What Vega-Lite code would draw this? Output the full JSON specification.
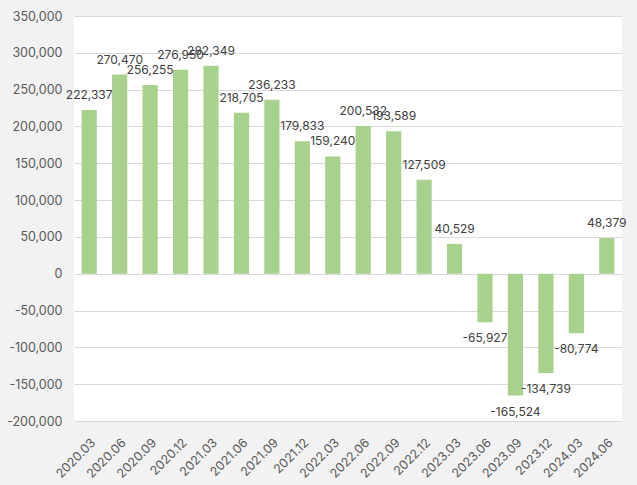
{
  "$schema": "https://vega.github.io/schema/vega-lite/v6.json",
  "autosize": {"type": "none"},
  "width": 548,
  "height": 405,
  "padding": {"left": 74, "top": 16, "right": 15, "bottom": 64},
  "background": "#f2f2f2",
  "config": {
    "locale": {"number": {"decimal": ".", "thousands": ",", "grouping": [3], "currency": ["$", ""], "minus": "-"}},
    "view": {"fill": "#ffffff", "stroke": null},
    "font": "Inter",
    "axis": {"labelFont": "Inter", "labelColor": "#595959", "labelFontSize": 12.5, "ticks": false, "domain": false, "title": null}
  },
  "data": {"values": [
    {"q": "2020.03", "v": 222337},
    {"q": "2020.06", "v": 270470},
    {"q": "2020.09", "v": 256255},
    {"q": "2020.12", "v": 276950},
    {"q": "2021.03", "v": 282349},
    {"q": "2021.06", "v": 218705},
    {"q": "2021.09", "v": 236233},
    {"q": "2021.12", "v": 179833},
    {"q": "2022.03", "v": 159240},
    {"q": "2022.06", "v": 200532},
    {"q": "2022.09", "v": 193589},
    {"q": "2022.12", "v": 127509},
    {"q": "2023.03", "v": 40529},
    {"q": "2023.06", "v": -65927},
    {"q": "2023.09", "v": -165524},
    {"q": "2023.12", "v": -134739},
    {"q": "2024.03", "v": -80774},
    {"q": "2024.06", "v": 48379}
  ]},
  "encoding": {
    "x": {"field": "q", "type": "nominal", "sort": null,
      "scale": {"paddingInner": 0.5, "paddingOuter": 0.25},
      "axis": {"labelAngle": -45, "labelPadding": 15, "grid": false}},
    "y": {"field": "v", "type": "quantitative",
      "scale": {"domain": [-200000, 350000], "nice": false, "zero": false},
      "axis": {"values": [-200000, -150000, -100000, -50000, 0, 50000, 100000, 150000, 200000, 250000, 300000, 350000],
        "labelExpr": "format(datum.value, ',')", "grid": true, "gridColor": "#d9d9d9", "labelPadding": 12}}
  },
  "layer": [
    {"mark": {"type": "bar", "color": "#a9d18e"}},
    {"transform": [{"filter": "datum.v >= 0"}],
     "mark": {"type": "text", "dy": -15, "baseline": "middle", "fontSize": 12, "color": "#404040"},
     "encoding": {"text": {"field": "v", "type": "quantitative", "format": ","}}},
    {"transform": [{"filter": "datum.v < 0"}],
     "mark": {"type": "text", "dy": 16, "baseline": "middle", "fontSize": 12, "color": "#404040"},
     "encoding": {"text": {"field": "v", "type": "quantitative", "format": ","}}}
  ]
}
